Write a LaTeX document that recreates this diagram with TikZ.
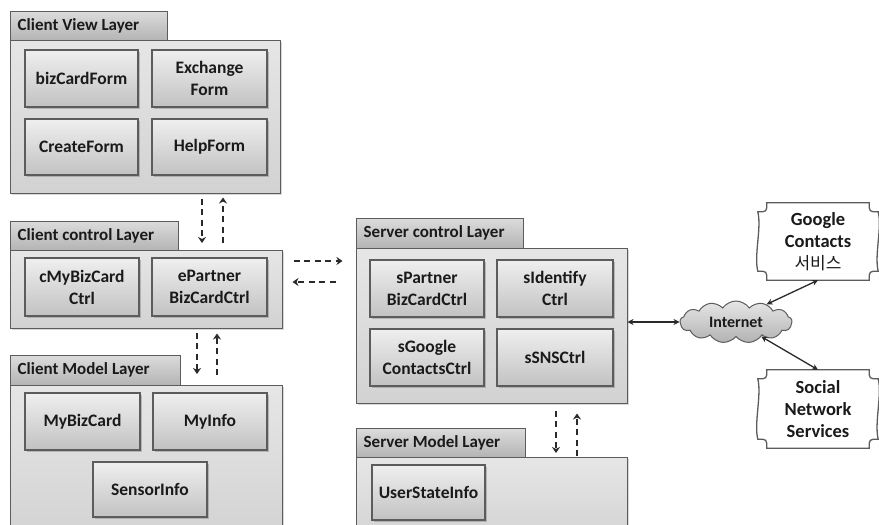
\documentclass[tikz,border=0pt]{standalone}
\usepackage{fontspec}
\setmainfont{Carlito}
\newfontfamily\krfont{Noto Sans CJK KR}
\usetikzlibrary{shapes.symbols,shadows,arrows.meta,calc}

\definecolor{edge}{HTML}{5C5C5C}
\definecolor{ink}{HTML}{1A1A1A}
\definecolor{bodytop}{HTML}{E6E6E6}
\definecolor{bodybot}{HTML}{D2D2D2}
\definecolor{tabtop}{HTML}{DCDCDC}
\definecolor{tabbot}{HTML}{B4B4B4}
\definecolor{comptop}{HTML}{EFEFEF}
\definecolor{compbot}{HTML}{C2C2C2}
\definecolor{flowc}{HTML}{2A2A2A}

% plaque outline (concave corners, slightly wavy sides) around a node
\newcommand\plaquebox[1]{%
  \draw[edge, line width=1.3pt, fill=white]
    ($(#1.north west)+(9,0)$) -- ($(#1.north east)+(-9,0)$)
    .. controls ($(#1.north east)+(-9,9)$) .. ($(#1.north east)+(0,9)$)
    .. controls ($(#1.north east)+(4,25)$) and ($(#1.south east)+(-4,-25)$) .. ($(#1.south east)+(0,-9)$)
    .. controls ($(#1.south east)+(-9,-9)$) .. ($(#1.south east)+(-9,0)$)
    -- ($(#1.south west)+(9,0)$)
    .. controls ($(#1.south west)+(9,-9)$) .. ($(#1.south west)+(0,-9)$)
    .. controls ($(#1.south west)+(-4,-25)$) and ($(#1.north west)+(4,25)$) .. ($(#1.north west)+(0,9)$)
    .. controls ($(#1.north west)+(9,9)$) .. cycle;}

\begin{document}
\begin{tikzpicture}[x=1pt,y=-1pt,
  every node/.style={text=ink},
  span/.style args={#1/#2/#3/#4}{at={({(#1+#3)/2},{(#2+#4)/2})},
    minimum width={(#3)-(#1)}, minimum height={(#4)-(#2)}},
  layerbody/.style={draw=edge, line width=1pt, top color=bodytop, bottom color=bodybot, inner sep=0pt,
    drop shadow={shadow xshift=1.5pt, shadow yshift=-1.5pt, opacity=.3}},
  layertab/.style={draw=edge, line width=1pt, top color=tabtop, bottom color=tabbot, inner sep=0pt},
  tablabel/.style={anchor=west, inner sep=0pt, font=\bfseries\fontsize{17}{19}\selectfont},
  comp/.style={draw=edge, line width=1.3pt, top color=comptop, bottom color=compbot, inner sep=0pt,
    align=center, font=\bfseries\fontsize{17.5}{22}\selectfont,
    drop shadow={shadow xshift=1.5pt, shadow yshift=-1.5pt, opacity=.45}},
  dflow/.style={draw=flowc, line width=2pt, dash pattern=on 6pt off 4.5pt, -{Stealth[length=6pt,width=8pt]}},
  link/.style={draw=flowc, line width=1.3pt, {Stealth[length=6pt,width=6pt]}-{Stealth[length=6pt,width=6pt]}},
  extbox/.style={inner sep=0pt, align=center, font=\bfseries\fontsize{18.5}{22}\selectfont}]

\clip (0,0) rectangle (879,525);
\fill[white] (0,0) rectangle (879,525);

% ---------------- Client View Layer ----------------
\node[layertab, span=10/11/167/40] (cvtab) {};
\node[layerbody, span=10/40/280/193] (cvbody) {};
\node[tablabel] (cvlab) at ($(cvtab.west)+(8,0)$) {Client View Layer};
\node[comp, span=25/50/138/107] (bizform) {bizCardForm};
\node[comp, span=152/50/267/107] (exform) {Exchange\\Form};
\node[comp, span=25/119/138/175] (crform) {CreateForm};
\node[comp, span=152/119/267/175] (hpform) {HelpForm};

% ---------------- Client control Layer ----------------
\node[layertab, span=10/221/178/250] (cctab) {};
\node[layerbody, span=10/250/282/328] (ccbody) {};
\node[tablabel] (cclab) at ($(cctab.west)+(8,0)$) {Client control Layer};
\node[comp, span=25/258/139/316] (cmybiz) {cMyBizCard\\Ctrl};
\node[comp, span=152/258/267/316] (epart) {ePartner\\BizCardCtrl};

% ---------------- Client Model Layer ----------------
\node[layertab, span=10/355/180/385] (cmtab) {};
\node[layerbody, span=10/385/282/545] (cmbody) {};
\node[tablabel] (cmlab) at ($(cmtab.west)+(8,0)$) {Client Model Layer};
\node[comp, span=25/393/140/450] (mybiz) {MyBizCard};
\node[comp, span=153/393/267/450] (myinfo) {MyInfo};
\node[comp, span=93/462/207/517] (sensor) {SensorInfo};

% ---------------- Server control Layer ----------------
\node[layertab, span=356/218/523/248] (sctab) {};
\node[layerbody, span=356/248/627/403] (scbody) {};
\node[tablabel] (sclab) at ($(sctab.west)+(8,0)$) {Server control Layer};
\node[comp, span=370/260/484/317] (spart) {sPartner\\BizCardCtrl};
\node[comp, span=497/260/613/317] (sident) {sIdentify\\Ctrl};
\node[comp, span=370/329/484/386] (sgoog) {sGoogle\\ContactsCtrl};
\node[comp, span=497/329/613/386] (ssns) {sSNSCtrl};

% ---------------- Server Model Layer ----------------
\node[layertab, span=356/428/525/457] (smtab) {};
\node[layerbody, span=356/457/627/545] (smbody) {};
\node[tablabel] (smlab) at ($(smtab.west)+(8,0)$) {Server Model Layer};
\node[comp, span=372/465/485/520] (ustate) {UserStateInfo};

% ---------------- external services ----------------
\node[cloud, cloud puffs=13, cloud puff arc=110, aspect=2.8, draw=edge, line width=1pt,
      top color=bodytop, bottom color=gray!60, minimum width=112, minimum height=42,
      inner sep=0pt, font=\bfseries\fontsize{16}{18}\selectfont] (inet) at (736,322) {Internet};

\node[extbox, span=758/203/878/280] (gsvc) {};
\plaquebox{gsvc}
\node[extbox] (gtxt) at (gsvc) {Google\\Contacts\\{\krfont\mdseries\fontsize{17}{22}\selectfont 서비스}};

\node[extbox, span=758/370/878/448] (sns) {};
\plaquebox{sns}
\node[extbox] (stxt) at (sns) {Social\\Network\\Services};

% ---------------- dashed calls between layers ----------------
\coordinate (vc1) at (202,243);
\coordinate (vc2) at (223,243);
\draw[dflow, shorten <=5pt] (cvbody.south -| vc1) -- (vc1);
\draw[dflow, shorten >=4pt] (vc2) -- (cvbody.south -| vc2);

\coordinate (cm1) at (197,374);
\coordinate (cm2) at (217,375);
\draw[dflow, shorten <=4pt] (ccbody.south -| cm1) -- (cm1);
\draw[dflow, shorten >=5pt] (cm2) -- (ccbody.south -| cm2);

\coordinate (hc1) at (0,261);
\coordinate (hc2) at (0,282);
\draw[dflow, shorten <=11pt, shorten >=13pt] (ccbody.east |- hc1) -- (scbody.west |- hc1);
\draw[dflow, shorten <=20pt, shorten >=10pt] (scbody.west |- hc2) -- (ccbody.east |- hc2);

\coordinate (sm1) at (556,453);
\coordinate (sm2) at (577,456);
\draw[dflow, shorten <=7pt] (scbody.south -| sm1) -- (sm1);
\draw[dflow, shorten >=10pt] (sm2) -- (scbody.south -| sm2);

% ---------------- network links ----------------
\draw[link] (scbody.east |- inet.west) -- (inet.west);
\draw[link] (inet.30) -- (gsvc.south);
\draw[link] (inet.-30) -- (sns.north);

\end{tikzpicture}
\end{document}
